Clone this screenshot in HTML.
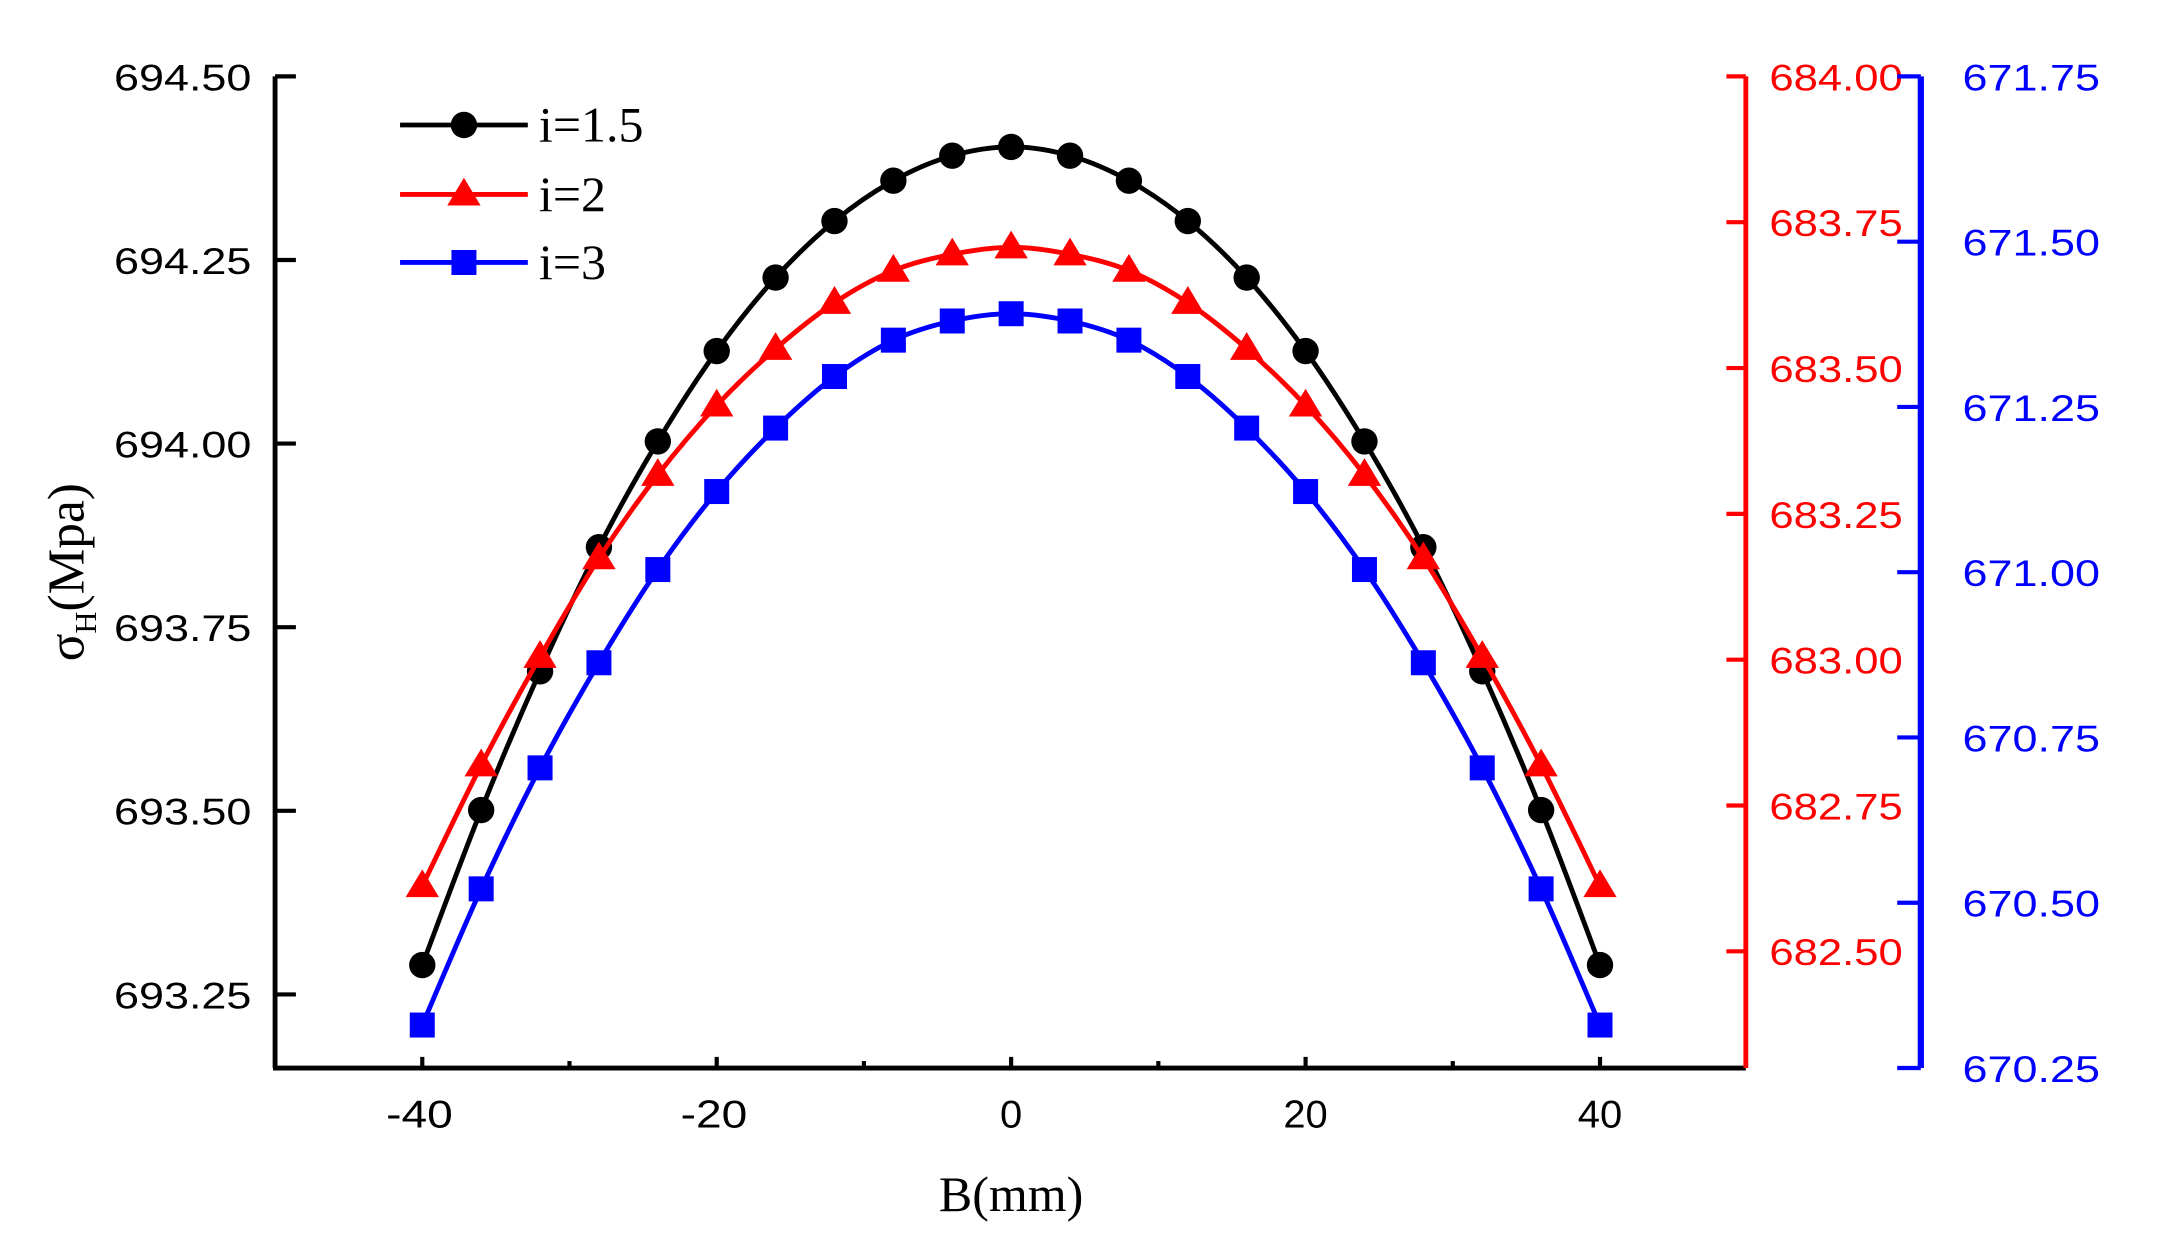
<!DOCTYPE html>
<html><head><meta charset="utf-8"><style>
html,body{margin:0;padding:0;background:#fff}
svg{display:block}
</style></head><body>
<svg id="chart" width="2157" height="1243" viewBox="0 0 1553 895" xmlns="http://www.w3.org/2000/svg">
<g id="axes"></g><g id="series"></g><g id="legend"></g>
</svg>
<script>
const xValues = [-40,-36,-32,-28,-24,-20,-16,-12,-8,-4,0,4,8,12,16,20,24,28,32,36,40];
const halfBlack = [693.290,693.501,693.690,693.859,694.003,694.126,694.226,694.303,694.358,694.392,694.404];
const halfRed = [682.612,682.819,683.005,683.174,683.317,683.436,683.533,683.612,683.667,683.695,683.707];
const halfBlue = [670.315,670.521,670.704,670.863,671.004,671.122,671.218,671.296,671.351,671.380,671.391];
const seriesBlack = halfBlack.concat(halfBlack.slice(0,10).reverse());
const seriesRed = halfRed.concat(halfRed.slice(0,10).reverse());
const seriesBlue = halfBlue.concat(halfBlue.slice(0,10).reverse());
const xTicks = [-40,-20,0,20,40];
const xMinorTicks = [-30,-10,10,30];
const leftTicks = ["693.25","693.50","693.75","694.00","694.25","694.50"];
const redTicks = ["682.50","682.75","683.00","683.25","683.50","683.75","684.00"];
const blueTicks = ["670.25","670.50","670.75","671.00","671.25","671.50","671.75"];
const legendLabels = ["i=1.5","i=2","i=3"];

const NS="http://www.w3.org/2000/svg";
const X0=198,X1=1257,YT=55,YB=769;
const xs=v=>728+(v)*10.6;
const yL=v=>55+(694.5-v)*528.8;
const yR=v=>55+(684-v)*420;
const yB=v=>55+(671.75-v)*476;
function mk(tag,attrs,parent){const e=document.createElementNS(NS,tag);for(const k in attrs)e.setAttribute(k,attrs[k]);parent.appendChild(e);return e;}
const axes=document.getElementById('axes'),ser=document.getElementById('series'),leg=document.getElementById('legend');
const tickFont='"Liberation Sans", Arial, sans-serif';
const serif='"Liberation Serif", "Times New Roman", serif';

let a=mk('line',{x1:X0,y1:YT,x2:X0,y2:YB,stroke:'#000','stroke-width':3.5},axes);

let b=mk('line',{x1:X0-1.5,y1:YB,x2:X1,y2:YB,stroke:'#000','stroke-width':3.5},axes);

leftTicks.forEach(t=>{const y=yL(+t);
 const l=mk('line',{x1:X0,y1:y,x2:X0+15,y2:y,stroke:'#000','stroke-width':3},axes);
 
 const tx=mk('text',{x:82,y:y+10,'font-family':tickFont,'font-size':27,fill:'#000',textLength:99,lengthAdjust:'spacingAndGlyphs'},axes);tx.textContent=t;
 });
xTicks.forEach(t=>{const x=xs(t);
 const l=mk('line',{x1:x,y1:YB,x2:x,y2:YB-8,stroke:'#000','stroke-width':3},axes);
 
 const w=String(t).length*16;
 const tx=mk('text',{x:x-w/2-(t<0?2:0),y:812,'font-family':tickFont,'font-size':28,fill:'#000',textLength:w,lengthAdjust:'spacingAndGlyphs'},axes);tx.textContent=t;
 });
xMinorTicks.forEach(t=>{const x=xs(t);
 const l=mk('line',{x1:x,y1:YB,x2:x,y2:YB-5,stroke:'#000','stroke-width':3},axes);
 });
let r=mk('line',{x1:1257,y1:YT,x2:1257,y2:YB,stroke:'#f00','stroke-width':3.5},axes);

redTicks.forEach(t=>{const y=yR(+t);
 const l=mk('line',{x1:1243,y1:y,x2:1257,y2:y,stroke:'#f00','stroke-width':3},axes);
 
 const tx=mk('text',{x:1274,y:y+10,'font-family':tickFont,'font-size':27,fill:'#f00',textLength:96,lengthAdjust:'spacingAndGlyphs'},axes);tx.textContent=t;
 });
let bl=mk('line',{x1:1383,y1:YT,x2:1383,y2:YB,stroke:'#00f','stroke-width':4.5},axes);

blueTicks.forEach(t=>{const y=yB(+t);
 const l=mk('line',{x1:1366,y1:y,x2:1383,y2:y,stroke:'#00f','stroke-width':3},axes);
 
 const tx=mk('text',{x:1413,y:y+10,'font-family':tickFont,'font-size':27,fill:'#00f',textLength:99,lengthAdjust:'spacingAndGlyphs'},axes);tx.textContent=t;
 });
const xt=mk('text',{x:728,y:872,'text-anchor':'middle','font-family':serif,'font-size':36,fill:'#000'},axes);xt.textContent='B(mm)';

const yt=mk('text',{transform:'translate(60,412) rotate(-90)','text-anchor':'middle','font-family':serif,'font-size':37,fill:'#000'},axes);
yt.innerHTML='σ<tspan font-size="22" dy="9">H</tspan><tspan dy="-9">(Mpa)</tspan>';


function smooth(pts){let d=`M${pts[0][0]},${pts[0][1]}`;
 for(let i=0;i<pts.length-1;i++){const p0=pts[Math.max(i-1,0)],p1=pts[i],p2=pts[i+1],p3=pts[Math.min(i+2,pts.length-1)];
  d+=` C${p1[0]+(p2[0]-p0[0])/6},${p1[1]+(p2[1]-p0[1])/6} ${p2[0]-(p3[0]-p1[0])/6},${p2[1]-(p3[1]-p1[1])/6} ${p2[0]},${p2[1]}`;}
 return d;}
function marker(kind,x,y,color,parent){let m;
 if(kind==='circle')m=mk('circle',{cx:x,cy:y,r:9.5,fill:color},parent);
 else if(kind==='tri')m=mk('polygon',{points:`${x},${y-12} ${x-12},${y+8} ${x+12},${y+8}`,fill:color},parent);
 else m=mk('rect',{x:x-9,y:y-9,width:18,height:18,fill:color},parent);
 return m;}
const defs=[[seriesBlack,yL,'#000','circle','series-i-1-5'],[seriesRed,yR,'#f00','tri','series-i-2'],[seriesBlue,yB,'#00f','square','series-i-3']];
defs.forEach(([vals,yf,col,kind,name])=>{
 const g=mk('g',{},ser);
 const pts=xValues.map((x,i)=>[xs(x),yf(vals[i])]);
 const p=mk('path',{d:smooth(pts),fill:'none',stroke:col,'stroke-width':3.5},g);
 
 pts.forEach(pt=>{const m=marker(kind,pt[0],pt[1],col,g);
  });
});
const legY=[90,140,189];
defs.forEach((d,i)=>{const g=mk('g',{},leg);
 mk('line',{x1:288,y1:legY[i],x2:380,y2:legY[i],stroke:d[2],'stroke-width':3.5},g);
 marker(d[3],334,legY[i],d[2],g);
 const t=mk('text',{x:388,y:legY[i]+12,'font-family':serif,'font-size':36,fill:'#000'},g);t.textContent=legendLabels[i];
 });
</script>
</body></html>
